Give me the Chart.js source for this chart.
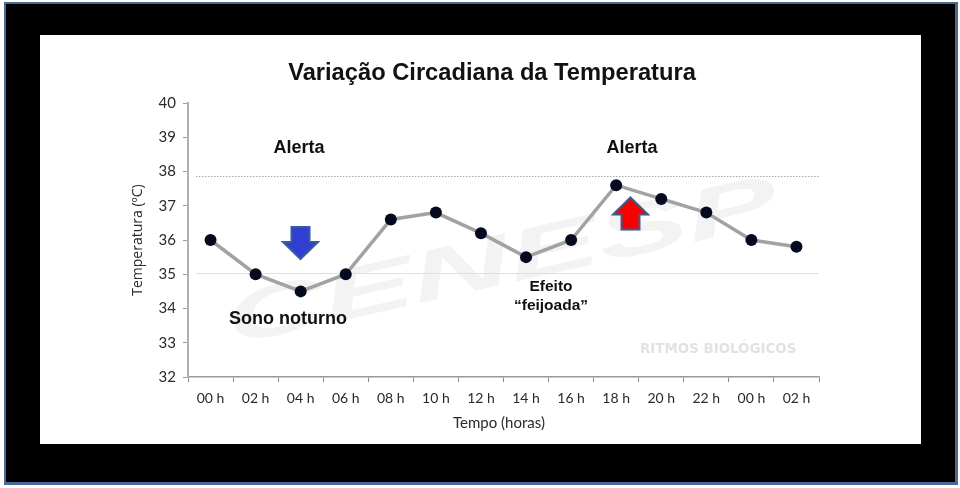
<!DOCTYPE html>
<html>
<head>
<meta charset="utf-8">
<title>Variação Circadiana da Temperatura</title>
<script src="https://cdn.jsdelivr.net/npm/chart.js@4"></script>
<style>
    html, body { margin: 0; padding: 0; background: #fff; }
    canvas { display: block; }
</style>
</head>
<body>
<canvas id="myChart" width="960" height="488"></canvas>
<script>
// Data
const hours = ['00 h', '02 h', '04 h', '06 h', '08 h', '10 h', '12 h', '14 h', '16 h', '18 h', '20 h', '22 h', '00 h', '02 h'];
const temperature = [36, 35, 34.5, 35, 36.6, 36.8, 36.2, 35.5, 36, 37.6, 37.2, 36.8, 36, 35.8];
const yMin = 32;
const yMax = 40;
const alertLevel = 37.87; // linha pontilhada
const lowLevel = 35.03; // linha clara

// Arrow, pointing up (dir = -1) or down (dir = 1), tip at tipY
function arrow(ctx, cx, tipY, dir, fill, stroke) {
    const wing = 17.5, body = 9, head = 17, len = 32;
    ctx.beginPath();
    ctx.moveTo(cx, tipY);
    ctx.lineTo(cx + wing, tipY - dir * head);
    ctx.lineTo(cx + body, tipY - dir * head);
    ctx.lineTo(cx + body, tipY - dir * len);
    ctx.lineTo(cx - body, tipY - dir * len);
    ctx.lineTo(cx - body, tipY - dir * head);
    ctx.lineTo(cx - wing, tipY - dir * head);
    ctx.closePath();
    ctx.fillStyle = fill;
    ctx.fill();
    ctx.lineWidth = 2;
    ctx.strokeStyle = stroke;
    ctx.stroke();
}

function label(ctx, text, x, y, font, color) {
    ctx.font = font;
    ctx.fillStyle = color;
    ctx.fillText(text, x, y);
}

// Moldura preta, painel branco, marca d'agua e linhas de referencia
const backdrop = {
    id: 'backdrop',
    beforeDraw(chart) {
        const ctx = chart.ctx;
        ctx.save();
        ctx.fillStyle = '#ffffff';
        ctx.fillRect(0, 0, 960, 488);
        ctx.fillStyle = '#4a6a9a';
        ctx.fillRect(4, 2, 954, 483);
        ctx.fillStyle = '#000000';
        ctx.fillRect(6, 4, 949, 478);
        ctx.fillStyle = '#ffffff';
        ctx.fillRect(40, 35, 881, 409);
        ctx.restore();
    },
    beforeDatasetsDraw(chart) {
        const ctx = chart.ctx;
        const { x, y } = chart.scales;
        const left = 196, right = x.right;

        ctx.save();
        ctx.translate(232, 345);
        ctx.rotate(-0.22);
        ctx.scale(1.9, 1);
        ctx.textAlign = 'left';
        ctx.textBaseline = 'alphabetic';
        label(ctx, 'CENESP', 0, 0, 'italic bold 72px "Liberation Sans"', '#f3f3f3');
        ctx.restore();

        ctx.save();
        ctx.textAlign = 'left';
        ctx.textBaseline = 'middle';
        label(ctx, 'RITMOS BIOLÓGICOS', 640, 349.5, 'bold 13.4px "DejaVu Sans"', '#e2e2e2');

        ctx.lineWidth = 1;
        ctx.strokeStyle = '#e0e0e0';
        ctx.beginPath();
        ctx.moveTo(left, Math.round(y.getPixelForValue(lowLevel)) + 0.5);
        ctx.lineTo(right, Math.round(y.getPixelForValue(lowLevel)) + 0.5);
        ctx.stroke();

        ctx.strokeStyle = '#a8a8a8';
        ctx.setLineDash([1.5, 1.5]);
        ctx.beginPath();
        ctx.moveTo(left, Math.round(y.getPixelForValue(alertLevel)) + 0.5);
        ctx.lineTo(right, Math.round(y.getPixelForValue(alertLevel)) + 0.5);
        ctx.stroke();
        ctx.restore();
    },
    afterDraw(chart) {
        const ctx = chart.ctx;
        ctx.save();
        ctx.textAlign = 'center';
        ctx.textBaseline = 'alphabetic';
        label(ctx, 'Variação Circadiana da Temperatura', 492, 80, 'bold 23.7px "Liberation Sans"', '#111111');
        label(ctx, 'Alerta', 299, 153, 'bold 18px "Liberation Sans"', '#111111');
        label(ctx, 'Alerta', 632, 153, 'bold 18px "Liberation Sans"', '#111111');
        label(ctx, 'Sono noturno', 288, 324, 'bold 18px "Liberation Sans"', '#111111');
        label(ctx, 'Efeito', 551, 291, 'bold 15.5px "Liberation Sans"', '#111111');
        label(ctx, '“feijoada”', 551, 310, 'bold 15.5px "Liberation Sans"', '#111111');
        label(ctx, 'Tempo (horas)', 499, 428, '15px Lato', '#2a2a2a');
        arrow(ctx, 300.5, 259, 1, '#2f3fd2', '#3a5aa0');
        arrow(ctx, 630.5, 197.5, -1, '#f80000', '#3f5a8c');
        ctx.restore();
    }
};

const ctx = document.getElementById('myChart');
new Chart(ctx, {
    type: 'line',
    data: {
        labels: hours,
        datasets: [{
            label: 'Temperatura',
            data: temperature,
            borderColor: '#a2a2a2',
            borderWidth: 3.5,
            tension: 0,
            pointRadius: 6,
            pointHoverRadius: 6,
            pointBackgroundColor: '#050a1e',
            pointBorderColor: '#050a1e',
            pointBorderWidth: 0
        }]
    },
    options: {
        responsive: false,
        animation: false,
        layout: {
            padding: { left: 130, right: 141, top: 103, bottom: 0 }
        },
        plugins: {
            legend: { display: false },
            tooltip: { enabled: false }
        },
        scales: {
            x: {
                offset: true,
                afterFit(scale) { scale.height = 111; },
                border: { color: '#9a9a9a', width: 1.5 },
                grid: { offset: true, drawOnChartArea: false, color: '#8a8a8a', tickLength: 5, lineWidth: 1 },
                ticks: {
                    color: '#2a2a2a',
                    font: { family: 'Lato', size: 14 },
                    padding: 8,
                    maxRotation: 0,
                    autoSkip: false
                }
            },
            y: {
                min: yMin,
                max: yMax,
                afterFit(scale) { scale.width = 58; },
                border: { color: '#b0b0b0', width: 2 },
                grid: { drawOnChartArea: false, color: '#9a9a9a', tickLength: 5, lineWidth: 1 },
                ticks: {
                    stepSize: 1,
                    color: '#2a2a2a',
                    font: { family: 'Lato', size: 15 },
                    padding: 7
                },
                title: {
                    display: true,
                    text: 'Temperatura (ºC)',
                    color: '#2a2a2a',
                    font: { family: 'Open Sans', size: 14 },
                    padding: { top: 0, bottom: 0 }
                }
            }
        }
    },
    plugins: [backdrop]
});
</script>
</body>
</html>
